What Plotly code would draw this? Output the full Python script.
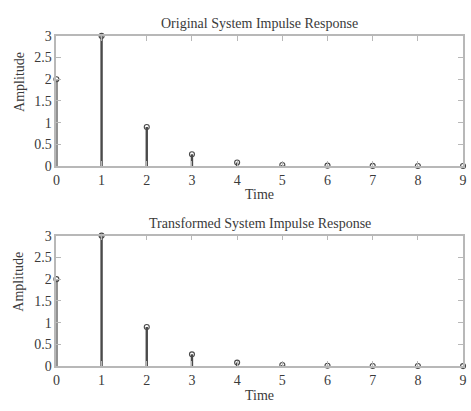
import plotly.graph_objects as go

time = [0, 1, 2, 3, 4, 5, 6, 7, 8, 9]
h_original = [2, 3, 0.9, 0.27, 0.081, 0.0243, 0.0073, 0.0022, 0.00066, 0.0002]
h_transformed = [2, 3, 0.9, 0.27, 0.081, 0.0243, 0.0073, 0.0022, 0.00066, 0.0002]
titles = ["Original System Impulse Response", "Transformed System Impulse Response"]
y_ticks = [0, 0.5, 1, 1.5, 2, 2.5, 3]
y_tick_text = ["0", "0.5", "1", "1.5", "2", "2.5", "3"]

W, H = 471, 411
FONT = "Liberation Serif"
STEM = "#4a4a4a"
AX = "#b8b8b8"
TXT = "#3a3a3a"

x0, x1 = 53.3, 467.0
panels = [(30.0, 165.0), (237.3, 372.7)]

fig = go.Figure()
for i, (vals, (ytop, ybot)) in enumerate(zip([h_original, h_transformed], panels)):
    sx = "" if i == 0 else "2"
    sx_x = "x" + sx
    sx_y = "y" + sx
    xs, ys = [], []
    for t, v in zip(time, vals):
        xs += [t, t, None]
        ys += [0, v, None]
    fig.add_trace(go.Scatter(x=xs, y=ys, mode="lines", line=dict(color=STEM, width=2.4),
                             xaxis=sx_x, yaxis=sx_y, showlegend=False, hoverinfo="skip",
                             cliponaxis=False))
    fig.add_trace(go.Scatter(x=time, y=vals, mode="markers",
                             marker=dict(symbol="circle-open", size=5, color=STEM, line=dict(width=1.1)),
                             xaxis=sx_x, yaxis=sx_y, showlegend=False, cliponaxis=False))
    dom_y = [1 - ybot / H, 1 - ytop / H]
    common = dict(showgrid=False, zeroline=False, showline=True, linecolor=AX, linewidth=1.5,
                  mirror="ticks", ticks="inside", ticklen=5, tickcolor=AX, tickwidth=1,
                  tickfont=dict(family=FONT, size=14, color=TXT))
    fig.update_layout(**{
        ("xaxis" + sx): dict(domain=[x0 / W, x1 / W], range=[0, 9], tickvals=time,
                             anchor=sx_y, ticklabelstandoff=0, **common),
        ("yaxis" + sx): dict(domain=dom_y, range=[0, 3], tickvals=y_ticks, ticktext=y_tick_text,
                             anchor=sx_x, ticklabelstandoff=0, **common),
    })
    cx = (x0 + x1) / 2 / W
    fig.add_annotation(text=titles[i], x=cx, y=1 - (ytop - 12.5) / H, xref="paper", yref="paper",
                       xanchor="center", yanchor="middle",
                       showarrow=False, font=dict(family=FONT, size=14, color=TXT))
    fig.add_annotation(text="Time", x=cx, y=1 - (ybot + 30) / H, xref="paper", yref="paper",
                       xanchor="center", yanchor="middle",
                       showarrow=False, font=dict(family=FONT, size=14, color=TXT))
    fig.add_annotation(text="Amplitude", x=15 / W, y=1 - (ytop + 48) / H, xref="paper",
                       yref="paper", showarrow=False, textangle=-90,
                       xanchor="center", yanchor="middle",
                       font=dict(family=FONT, size=14, color=TXT))

fig.update_layout(width=W, height=H, margin=dict(l=0, r=0, t=0, b=0),
                  plot_bgcolor="white", paper_bgcolor="white")
fig.write_html("out.html")
